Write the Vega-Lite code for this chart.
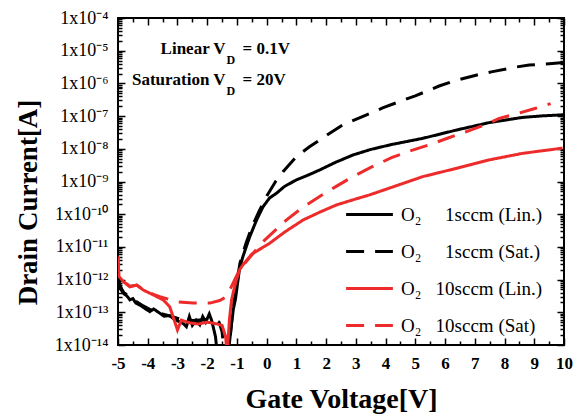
{
  "$schema": "https://vega.github.io/schema/vega-lite/v6.json",
  "width": 446,
  "height": 327,
  "autosize": {"type": "none"},
  "padding": {"left": 118, "top": 18, "right": 16, "bottom": 74},
  "background": "white",
  "config": {
    "font": "Liberation Serif",
    "view": {"stroke": "black", "strokeWidth": 2},
    "axis": {"grid": false, "domain": false, "tickColor": "black", "tickWidth": 1.5, "labelColor": "black", "titleColor": "black", "labelFont": "Liberation Serif", "titleFont": "Liberation Serif", "labelFlush": false, "labelOverlap": false},
    "legend": {"symbolType": "M-1.3,0H1.3", "symbolSize": 1296, "symbolStrokeWidth": 3, "labelFont": "Liberation Serif", "labelFontSize": 19, "labelColor": "black", "labelOffset": 12, "rowPadding": 7, "labelLimit": 300}
  },
  "datasets": {
    "curves": [
      {"series": "O₂\u00a0\u00a0\u00a0\u00a0\u00a01sccm (Lin.)", "Vg": -5, "Id": 1.26e-12},
      {"series": "O₂\u00a0\u00a0\u00a0\u00a0\u00a01sccm (Lin.)", "Vg": -4.95, "Id": 6.3e-13},
      {"series": "O₂\u00a0\u00a0\u00a0\u00a0\u00a01sccm (Lin.)", "Vg": -4.9, "Id": 5.01e-13},
      {"series": "O₂\u00a0\u00a0\u00a0\u00a0\u00a01sccm (Lin.)", "Vg": -4.82, "Id": 3.8e-13},
      {"series": "O₂\u00a0\u00a0\u00a0\u00a0\u00a01sccm (Lin.)", "Vg": -4.7, "Id": 3.16e-13},
      {"series": "O₂\u00a0\u00a0\u00a0\u00a0\u00a01sccm (Lin.)", "Vg": -4.6, "Id": 2.4e-13},
      {"series": "O₂\u00a0\u00a0\u00a0\u00a0\u00a01sccm (Lin.)", "Vg": -4.5, "Id": 2.63e-13},
      {"series": "O₂\u00a0\u00a0\u00a0\u00a0\u00a01sccm (Lin.)", "Vg": -4.4, "Id": 1.91e-13},
      {"series": "O₂\u00a0\u00a0\u00a0\u00a0\u00a01sccm (Lin.)", "Vg": -4.26, "Id": 1.66e-13},
      {"series": "O₂\u00a0\u00a0\u00a0\u00a0\u00a01sccm (Lin.)", "Vg": -4.1, "Id": 1.32e-13},
      {"series": "O₂\u00a0\u00a0\u00a0\u00a0\u00a01sccm (Lin.)", "Vg": -3.93, "Id": 1.05e-13},
      {"series": "O₂\u00a0\u00a0\u00a0\u00a0\u00a01sccm (Lin.)", "Vg": -3.8, "Id": 1.26e-13},
      {"series": "O₂\u00a0\u00a0\u00a0\u00a0\u00a01sccm (Lin.)", "Vg": -3.59, "Id": 9.33e-14},
      {"series": "O₂\u00a0\u00a0\u00a0\u00a0\u00a01sccm (Lin.)", "Vg": -3.45, "Id": 7.59e-14},
      {"series": "O₂\u00a0\u00a0\u00a0\u00a0\u00a01sccm (Lin.)", "Vg": -3.26, "Id": 7.94e-14},
      {"series": "O₂\u00a0\u00a0\u00a0\u00a0\u00a01sccm (Lin.)", "Vg": -3.1, "Id": 6.03e-14},
      {"series": "O₂\u00a0\u00a0\u00a0\u00a0\u00a01sccm (Lin.)", "Vg": -2.93, "Id": 5.13e-14},
      {"series": "O₂\u00a0\u00a0\u00a0\u00a0\u00a01sccm (Lin.)", "Vg": -2.8, "Id": 4.47e-14},
      {"series": "O₂\u00a0\u00a0\u00a0\u00a0\u00a01sccm (Lin.)", "Vg": -2.7, "Id": 3.63e-14},
      {"series": "O₂\u00a0\u00a0\u00a0\u00a0\u00a01sccm (Lin.)", "Vg": -2.6, "Id": 7.41e-14},
      {"series": "O₂\u00a0\u00a0\u00a0\u00a0\u00a01sccm (Lin.)", "Vg": -2.5, "Id": 3.98e-14},
      {"series": "O₂\u00a0\u00a0\u00a0\u00a0\u00a01sccm (Lin.)", "Vg": -2.37, "Id": 5.75e-14},
      {"series": "O₂\u00a0\u00a0\u00a0\u00a0\u00a01sccm (Lin.)", "Vg": -2.25, "Id": 4.17e-14},
      {"series": "O₂\u00a0\u00a0\u00a0\u00a0\u00a01sccm (Lin.)", "Vg": -2.15, "Id": 7.41e-14},
      {"series": "O₂\u00a0\u00a0\u00a0\u00a0\u00a01sccm (Lin.)", "Vg": -2.05, "Id": 5.01e-14},
      {"series": "O₂\u00a0\u00a0\u00a0\u00a0\u00a01sccm (Lin.)", "Vg": -1.93, "Id": 8.91e-14},
      {"series": "O₂\u00a0\u00a0\u00a0\u00a0\u00a01sccm (Lin.)", "Vg": -1.85, "Id": 5.62e-14},
      {"series": "O₂\u00a0\u00a0\u00a0\u00a0\u00a01sccm (Lin.)", "Vg": -1.8, "Id": 3.63e-14},
      {"series": "O₂\u00a0\u00a0\u00a0\u00a0\u00a01sccm (Lin.)", "Vg": -1.72, "Id": 1.78e-14},
      {"series": "O₂\u00a0\u00a0\u00a0\u00a0\u00a01sccm (Lin.)", "Vg": -1.66, "Id": 5e-15},
      {"series": "O₂\u00a0\u00a0\u00a0\u00a0\u00a01sccm (Lin.)", "Vg": -1.3, "Id": 5e-15},
      {"series": "O₂\u00a0\u00a0\u00a0\u00a0\u00a01sccm (Lin.)", "Vg": -1.26, "Id": 1e-14},
      {"series": "O₂\u00a0\u00a0\u00a0\u00a0\u00a01sccm (Lin.)", "Vg": -1.2, "Id": 3.16e-14},
      {"series": "O₂\u00a0\u00a0\u00a0\u00a0\u00a01sccm (Lin.)", "Vg": -1.12, "Id": 1.26e-13},
      {"series": "O₂\u00a0\u00a0\u00a0\u00a0\u00a01sccm (Lin.)", "Vg": -1.05, "Id": 2.51e-13},
      {"series": "O₂\u00a0\u00a0\u00a0\u00a0\u00a01sccm (Lin.)", "Vg": -0.91, "Id": 2.24e-12},
      {"series": "O₂\u00a0\u00a0\u00a0\u00a0\u00a01sccm (Lin.)", "Vg": -0.8, "Id": 5.01e-12},
      {"series": "O₂\u00a0\u00a0\u00a0\u00a0\u00a01sccm (Lin.)", "Vg": -0.67, "Id": 1.12e-11},
      {"series": "O₂\u00a0\u00a0\u00a0\u00a0\u00a01sccm (Lin.)", "Vg": -0.57, "Id": 2.04e-11},
      {"series": "O₂\u00a0\u00a0\u00a0\u00a0\u00a01sccm (Lin.)", "Vg": -0.34, "Id": 6.61e-11},
      {"series": "O₂\u00a0\u00a0\u00a0\u00a0\u00a01sccm (Lin.)", "Vg": -0.12, "Id": 1.7e-10},
      {"series": "O₂\u00a0\u00a0\u00a0\u00a0\u00a01sccm (Lin.)", "Vg": 0.1, "Id": 3.16e-10},
      {"series": "O₂\u00a0\u00a0\u00a0\u00a0\u00a01sccm (Lin.)", "Vg": 0.33, "Id": 4.37e-10},
      {"series": "O₂\u00a0\u00a0\u00a0\u00a0\u00a01sccm (Lin.)", "Vg": 0.6, "Id": 7.08e-10},
      {"series": "O₂\u00a0\u00a0\u00a0\u00a0\u00a01sccm (Lin.)", "Vg": 1.0, "Id": 1.12e-9},
      {"series": "O₂\u00a0\u00a0\u00a0\u00a0\u00a01sccm (Lin.)", "Vg": 1.4, "Id": 1.58e-9},
      {"series": "O₂\u00a0\u00a0\u00a0\u00a0\u00a01sccm (Lin.)", "Vg": 1.78, "Id": 2.24e-9},
      {"series": "O₂\u00a0\u00a0\u00a0\u00a0\u00a01sccm (Lin.)", "Vg": 2.3, "Id": 3.8e-9},
      {"series": "O₂\u00a0\u00a0\u00a0\u00a0\u00a01sccm (Lin.)", "Vg": 2.9, "Id": 6.46e-9},
      {"series": "O₂\u00a0\u00a0\u00a0\u00a0\u00a01sccm (Lin.)", "Vg": 3.5, "Id": 9.55e-9},
      {"series": "O₂\u00a0\u00a0\u00a0\u00a0\u00a01sccm (Lin.)", "Vg": 4.2, "Id": 1.35e-8},
      {"series": "O₂\u00a0\u00a0\u00a0\u00a0\u00a01sccm (Lin.)", "Vg": 5.25, "Id": 2.09e-8},
      {"series": "O₂\u00a0\u00a0\u00a0\u00a0\u00a01sccm (Lin.)", "Vg": 6.37, "Id": 3.72e-8},
      {"series": "O₂\u00a0\u00a0\u00a0\u00a0\u00a01sccm (Lin.)", "Vg": 7.48, "Id": 6.31e-8},
      {"series": "O₂\u00a0\u00a0\u00a0\u00a0\u00a01sccm (Lin.)", "Vg": 8.6, "Id": 9.12e-8},
      {"series": "O₂\u00a0\u00a0\u00a0\u00a0\u00a01sccm (Lin.)", "Vg": 9.3, "Id": 1.02e-7},
      {"series": "O₂\u00a0\u00a0\u00a0\u00a0\u00a01sccm (Lin.)", "Vg": 10, "Id": 1.1e-7},

      {"series": "O₂\u00a0\u00a0\u00a0\u00a0\u00a01sccm (Sat.)", "Vg": -5, "Id": 1e-12},
      {"series": "O₂\u00a0\u00a0\u00a0\u00a0\u00a01sccm (Sat.)", "Vg": -4.9, "Id": 5.62e-13},
      {"series": "O₂\u00a0\u00a0\u00a0\u00a0\u00a01sccm (Sat.)", "Vg": -4.8, "Id": 3.98e-13},
      {"series": "O₂\u00a0\u00a0\u00a0\u00a0\u00a01sccm (Sat.)", "Vg": -4.5, "Id": 2.51e-13},
      {"series": "O₂\u00a0\u00a0\u00a0\u00a0\u00a01sccm (Sat.)", "Vg": -4.2, "Id": 1.66e-13},
      {"series": "O₂\u00a0\u00a0\u00a0\u00a0\u00a01sccm (Sat.)", "Vg": -3.9, "Id": 1.2e-13},
      {"series": "O₂\u00a0\u00a0\u00a0\u00a0\u00a01sccm (Sat.)", "Vg": -3.5, "Id": 8.91e-14},
      {"series": "O₂\u00a0\u00a0\u00a0\u00a0\u00a01sccm (Sat.)", "Vg": -3.0, "Id": 6.61e-14},
      {"series": "O₂\u00a0\u00a0\u00a0\u00a0\u00a01sccm (Sat.)", "Vg": -2.5, "Id": 5.62e-14},
      {"series": "O₂\u00a0\u00a0\u00a0\u00a0\u00a01sccm (Sat.)", "Vg": -2.0, "Id": 6.03e-14},
      {"series": "O₂\u00a0\u00a0\u00a0\u00a0\u00a01sccm (Sat.)", "Vg": -1.75, "Id": 6.31e-14},
      {"series": "O₂\u00a0\u00a0\u00a0\u00a0\u00a01sccm (Sat.)", "Vg": -1.6, "Id": 5.01e-14},
      {"series": "O₂\u00a0\u00a0\u00a0\u00a0\u00a01sccm (Sat.)", "Vg": -1.5, "Id": 2.51e-14},
      {"series": "O₂\u00a0\u00a0\u00a0\u00a0\u00a01sccm (Sat.)", "Vg": -1.42, "Id": 5e-15},
      {"series": "O₂\u00a0\u00a0\u00a0\u00a0\u00a01sccm (Sat.)", "Vg": -1.3, "Id": 5e-15},
      {"series": "O₂\u00a0\u00a0\u00a0\u00a0\u00a01sccm (Sat.)", "Vg": -1.25, "Id": 1e-14},
      {"series": "O₂\u00a0\u00a0\u00a0\u00a0\u00a01sccm (Sat.)", "Vg": -1.15, "Id": 1e-13},
      {"series": "O₂\u00a0\u00a0\u00a0\u00a0\u00a01sccm (Sat.)", "Vg": -1.05, "Id": 3.98e-13},
      {"series": "O₂\u00a0\u00a0\u00a0\u00a0\u00a01sccm (Sat.)", "Vg": -0.9, "Id": 3.16e-12},
      {"series": "O₂\u00a0\u00a0\u00a0\u00a0\u00a01sccm (Sat.)", "Vg": -0.7, "Id": 1.26e-11},
      {"series": "O₂\u00a0\u00a0\u00a0\u00a0\u00a01sccm (Sat.)", "Vg": -0.5, "Id": 3.98e-11},
      {"series": "O₂\u00a0\u00a0\u00a0\u00a0\u00a01sccm (Sat.)", "Vg": -0.25, "Id": 1.26e-10},
      {"series": "O₂\u00a0\u00a0\u00a0\u00a0\u00a01sccm (Sat.)", "Vg": 0, "Id": 3.55e-10},
      {"series": "O₂\u00a0\u00a0\u00a0\u00a0\u00a01sccm (Sat.)", "Vg": 0.3, "Id": 1e-9},
      {"series": "O₂\u00a0\u00a0\u00a0\u00a0\u00a01sccm (Sat.)", "Vg": 0.55, "Id": 2e-9},
      {"series": "O₂\u00a0\u00a0\u00a0\u00a0\u00a01sccm (Sat.)", "Vg": 1.0, "Id": 5.75e-9},
      {"series": "O₂\u00a0\u00a0\u00a0\u00a0\u00a01sccm (Sat.)", "Vg": 1.44, "Id": 1.15e-8},
      {"series": "O₂\u00a0\u00a0\u00a0\u00a0\u00a01sccm (Sat.)", "Vg": 2.11, "Id": 2.95e-8},
      {"series": "O₂\u00a0\u00a0\u00a0\u00a0\u00a01sccm (Sat.)", "Vg": 2.56, "Id": 5.37e-8},
      {"series": "O₂\u00a0\u00a0\u00a0\u00a0\u00a01sccm (Sat.)", "Vg": 3.34, "Id": 1.07e-7},
      {"series": "O₂\u00a0\u00a0\u00a0\u00a0\u00a01sccm (Sat.)", "Vg": 3.9, "Id": 1.78e-7},
      {"series": "O₂\u00a0\u00a0\u00a0\u00a0\u00a01sccm (Sat.)", "Vg": 4.57, "Id": 3.02e-7},
      {"series": "O₂\u00a0\u00a0\u00a0\u00a0\u00a01sccm (Sat.)", "Vg": 5.0, "Id": 4.17e-7},
      {"series": "O₂\u00a0\u00a0\u00a0\u00a0\u00a01sccm (Sat.)", "Vg": 5.8, "Id": 8.32e-7},
      {"series": "O₂\u00a0\u00a0\u00a0\u00a0\u00a01sccm (Sat.)", "Vg": 6.25, "Id": 1.15e-6},
      {"series": "O₂\u00a0\u00a0\u00a0\u00a0\u00a01sccm (Sat.)", "Vg": 7.04, "Id": 1.78e-6},
      {"series": "O₂\u00a0\u00a0\u00a0\u00a0\u00a01sccm (Sat.)", "Vg": 7.6, "Id": 2.29e-6},
      {"series": "O₂\u00a0\u00a0\u00a0\u00a0\u00a01sccm (Sat.)", "Vg": 8.38, "Id": 3.16e-6},
      {"series": "O₂\u00a0\u00a0\u00a0\u00a0\u00a01sccm (Sat.)", "Vg": 8.83, "Id": 3.63e-6},
      {"series": "O₂\u00a0\u00a0\u00a0\u00a0\u00a01sccm (Sat.)", "Vg": 9.6, "Id": 4.07e-6},
      {"series": "O₂\u00a0\u00a0\u00a0\u00a0\u00a01sccm (Sat.)", "Vg": 10, "Id": 4.37e-6},

      {"series": "O₂\u00a0\u00a0\u00a010sccm (Lin.)", "Vg": -5, "Id": 5.01e-12},
      {"series": "O₂\u00a0\u00a0\u00a010sccm (Lin.)", "Vg": -4.97, "Id": 1.26e-12},
      {"series": "O₂\u00a0\u00a0\u00a010sccm (Lin.)", "Vg": -4.82, "Id": 8.71e-13},
      {"series": "O₂\u00a0\u00a0\u00a010sccm (Lin.)", "Vg": -4.6, "Id": 6.03e-13},
      {"series": "O₂\u00a0\u00a0\u00a010sccm (Lin.)", "Vg": -4.37, "Id": 6.76e-13},
      {"series": "O₂\u00a0\u00a0\u00a010sccm (Lin.)", "Vg": -4.15, "Id": 4.79e-13},
      {"series": "O₂\u00a0\u00a0\u00a010sccm (Lin.)", "Vg": -3.81, "Id": 3.39e-13},
      {"series": "O₂\u00a0\u00a0\u00a010sccm (Lin.)", "Vg": -3.48, "Id": 2.4e-13},
      {"series": "O₂\u00a0\u00a0\u00a010sccm (Lin.)", "Vg": -3.26, "Id": 1.48e-13},
      {"series": "O₂\u00a0\u00a0\u00a010sccm (Lin.)", "Vg": -3.15, "Id": 7.41e-14},
      {"series": "O₂\u00a0\u00a0\u00a010sccm (Lin.)", "Vg": -3.0, "Id": 2.88e-14},
      {"series": "O₂\u00a0\u00a0\u00a010sccm (Lin.)", "Vg": -2.87, "Id": 5.75e-14},
      {"series": "O₂\u00a0\u00a0\u00a010sccm (Lin.)", "Vg": -2.6, "Id": 4.79e-14},
      {"series": "O₂\u00a0\u00a0\u00a010sccm (Lin.)", "Vg": -2.3, "Id": 4.37e-14},
      {"series": "O₂\u00a0\u00a0\u00a010sccm (Lin.)", "Vg": -2.0, "Id": 5.01e-14},
      {"series": "O₂\u00a0\u00a0\u00a010sccm (Lin.)", "Vg": -1.7, "Id": 4.47e-14},
      {"series": "O₂\u00a0\u00a0\u00a010sccm (Lin.)", "Vg": -1.5, "Id": 3.98e-14},
      {"series": "O₂\u00a0\u00a0\u00a010sccm (Lin.)", "Vg": -1.38, "Id": 1.78e-14},
      {"series": "O₂\u00a0\u00a0\u00a010sccm (Lin.)", "Vg": -1.33, "Id": 5e-15},
      {"series": "O₂\u00a0\u00a0\u00a010sccm (Lin.)", "Vg": -1.3, "Id": 1.26e-14},
      {"series": "O₂\u00a0\u00a0\u00a010sccm (Lin.)", "Vg": -1.25, "Id": 6.31e-14},
      {"series": "O₂\u00a0\u00a0\u00a010sccm (Lin.)", "Vg": -1.18, "Id": 2.4e-13},
      {"series": "O₂\u00a0\u00a0\u00a010sccm (Lin.)", "Vg": -1.1, "Id": 5.01e-13},
      {"series": "O₂\u00a0\u00a0\u00a010sccm (Lin.)", "Vg": -1.02, "Id": 9.77e-13},
      {"series": "O₂\u00a0\u00a0\u00a010sccm (Lin.)", "Vg": -0.91, "Id": 2e-12},
      {"series": "O₂\u00a0\u00a0\u00a010sccm (Lin.)", "Vg": -0.8, "Id": 2.82e-12},
      {"series": "O₂\u00a0\u00a0\u00a010sccm (Lin.)", "Vg": -0.5, "Id": 6.03e-12},
      {"series": "O₂\u00a0\u00a0\u00a010sccm (Lin.)", "Vg": 0.1, "Id": 1.29e-11},
      {"series": "O₂\u00a0\u00a0\u00a010sccm (Lin.)", "Vg": 0.6, "Id": 2.82e-11},
      {"series": "O₂\u00a0\u00a0\u00a010sccm (Lin.)", "Vg": 1.22, "Id": 6.61e-11},
      {"series": "O₂\u00a0\u00a0\u00a010sccm (Lin.)", "Vg": 1.8, "Id": 1.17e-10},
      {"series": "O₂\u00a0\u00a0\u00a010sccm (Lin.)", "Vg": 2.34, "Id": 1.91e-10},
      {"series": "O₂\u00a0\u00a0\u00a010sccm (Lin.)", "Vg": 2.9, "Id": 2.75e-10},
      {"series": "O₂\u00a0\u00a0\u00a010sccm (Lin.)", "Vg": 3.46, "Id": 3.89e-10},
      {"series": "O₂\u00a0\u00a0\u00a010sccm (Lin.)", "Vg": 4.2, "Id": 6.61e-10},
      {"series": "O₂\u00a0\u00a0\u00a010sccm (Lin.)", "Vg": 5.25, "Id": 1.41e-9},
      {"series": "O₂\u00a0\u00a0\u00a010sccm (Lin.)", "Vg": 6.37, "Id": 2.51e-9},
      {"series": "O₂\u00a0\u00a0\u00a010sccm (Lin.)", "Vg": 7.48, "Id": 4.57e-9},
      {"series": "O₂\u00a0\u00a0\u00a010sccm (Lin.)", "Vg": 8.6, "Id": 7.24e-9},
      {"series": "O₂\u00a0\u00a0\u00a010sccm (Lin.)", "Vg": 9.95, "Id": 1.05e-8},

      {"series": "O₂\u00a0\u00a0\u00a010sccm (Sat)", "Vg": -5, "Id": 5.01e-12},
      {"series": "O₂\u00a0\u00a0\u00a010sccm (Sat)", "Vg": -4.97, "Id": 1.26e-12},
      {"series": "O₂\u00a0\u00a0\u00a010sccm (Sat)", "Vg": -4.82, "Id": 8.71e-13},
      {"series": "O₂\u00a0\u00a0\u00a010sccm (Sat)", "Vg": -4.6, "Id": 6.31e-13},
      {"series": "O₂\u00a0\u00a0\u00a010sccm (Sat)", "Vg": -4.37, "Id": 6.76e-13},
      {"series": "O₂\u00a0\u00a0\u00a010sccm (Sat)", "Vg": -4.15, "Id": 5.01e-13},
      {"series": "O₂\u00a0\u00a0\u00a010sccm (Sat)", "Vg": -3.81, "Id": 3.55e-13},
      {"series": "O₂\u00a0\u00a0\u00a010sccm (Sat)", "Vg": -3.59, "Id": 3.02e-13},
      {"series": "O₂\u00a0\u00a0\u00a010sccm (Sat)", "Vg": -3.03, "Id": 2.09e-13},
      {"series": "O₂\u00a0\u00a0\u00a010sccm (Sat)", "Vg": -2.47, "Id": 1.91e-13},
      {"series": "O₂\u00a0\u00a0\u00a010sccm (Sat)", "Vg": -1.91, "Id": 1.91e-13},
      {"series": "O₂\u00a0\u00a0\u00a010sccm (Sat)", "Vg": -1.58, "Id": 2.29e-13},
      {"series": "O₂\u00a0\u00a0\u00a010sccm (Sat)", "Vg": -1.35, "Id": 3.02e-13},
      {"series": "O₂\u00a0\u00a0\u00a010sccm (Sat)", "Vg": -1.13, "Id": 7.76e-13},
      {"series": "O₂\u00a0\u00a0\u00a010sccm (Sat)", "Vg": -0.91, "Id": 2e-12},
      {"series": "O₂\u00a0\u00a0\u00a010sccm (Sat)", "Vg": -0.46, "Id": 6.31e-12},
      {"series": "O₂\u00a0\u00a0\u00a010sccm (Sat)", "Vg": -0.12, "Id": 1.45e-11},
      {"series": "O₂\u00a0\u00a0\u00a010sccm (Sat)", "Vg": 0.66, "Id": 6.61e-11},
      {"series": "O₂\u00a0\u00a0\u00a010sccm (Sat)", "Vg": 1.2, "Id": 1.58e-10},
      {"series": "O₂\u00a0\u00a0\u00a010sccm (Sat)", "Vg": 1.78, "Id": 3.47e-10},
      {"series": "O₂\u00a0\u00a0\u00a010sccm (Sat)", "Vg": 2.34, "Id": 7.08e-10},
      {"series": "O₂\u00a0\u00a0\u00a010sccm (Sat)", "Vg": 2.9, "Id": 1.41e-9},
      {"series": "O₂\u00a0\u00a0\u00a010sccm (Sat)", "Vg": 3.5, "Id": 2.69e-9},
      {"series": "O₂\u00a0\u00a0\u00a010sccm (Sat)", "Vg": 4.2, "Id": 5.37e-9},
      {"series": "O₂\u00a0\u00a0\u00a010sccm (Sat)", "Vg": 4.8, "Id": 8.51e-9},
      {"series": "O₂\u00a0\u00a0\u00a010sccm (Sat)", "Vg": 5.47, "Id": 1.32e-8},
      {"series": "O₂\u00a0\u00a0\u00a010sccm (Sat)", "Vg": 6.1, "Id": 2.14e-8},
      {"series": "O₂\u00a0\u00a0\u00a010sccm (Sat)", "Vg": 6.7, "Id": 3.31e-8},
      {"series": "O₂\u00a0\u00a0\u00a010sccm (Sat)", "Vg": 7.3, "Id": 5.25e-8},
      {"series": "O₂\u00a0\u00a0\u00a010sccm (Sat)", "Vg": 7.82, "Id": 8.51e-8},
      {"series": "O₂\u00a0\u00a0\u00a010sccm (Sat)", "Vg": 8.4, "Id": 1.17e-7},
      {"series": "O₂\u00a0\u00a0\u00a010sccm (Sat)", "Vg": 9.05, "Id": 1.74e-7},
      {"series": "O₂\u00a0\u00a0\u00a010sccm (Sat)", "Vg": 9.55, "Id": 2.4e-7}
    ],
    "label1": [
      {"Vg": -1.38, "Id": 1.15e-5, "t": "Linear V"},
      {"Vg": -1.38, "Id": 1.3e-6, "t": "Saturation V"}
    ],
    "labelD": [
      {"Vg": -1.35, "Id": 5.2e-6, "t": "D"},
      {"Vg": -1.35, "Id": 5.9e-7, "t": "D"}
    ],
    "label2": [
      {"Vg": -0.81, "Id": 1.15e-5, "t": "= 0.1V"},
      {"Vg": -0.81, "Id": 1.3e-6, "t": "= 20V"}
    ]
  },
  "resolve": {"axis": {"x": "independent", "y": "independent"}},
  "layer": [
    {
      "data": {"name": "curves"},
      "mark": {"type": "line", "strokeWidth": 3, "clip": true},
      "encoding": {
        "x": {"field": "Vg", "type": "quantitative",
          "scale": {"domain": [-5, 10], "nice": false, "zero": false},
          "axis": {"orient": "bottom", "values": [-5,-4,-3,-2,-1,0,1,2,3,4,5,6,7,8,9,10], "labelExpr": "'' + datum.value", "tickSize": -7, "labelPadding": 17, "labelFontSize": 17, "labelFontWeight": "bold", "title": "Gate Voltage[V]", "titleFontSize": 28, "titleFontWeight": "bold", "titlePadding": 14}},
        "y": {"field": "Id", "type": "quantitative",
          "scale": {"type": "log", "domain": [1e-14, 1e-4], "nice": false},
          "axis": {"orient": "left", "values": [1e-14,1e-13,1e-12,1e-11,1e-10,1e-9,1e-8,1e-7,1e-6,1e-5,1e-4],
            "labelExpr": "'1x10' + ['⁻¹⁴','⁻¹³','⁻¹²','⁻¹¹','⁻¹⁰','⁻⁹','⁻⁸','⁻⁷','⁻⁶','⁻⁵','⁻⁴'][round(log(datum.value)/LN10)+14]",
            "tickSize": -7, "labelPadding": 17, "labelFontSize": 18, "title": "Drain Current[A]", "titleFontSize": 27, "titleFontWeight": "bold", "titlePadding": 12, "titleY": 184}},
        "color": {"field": "series", "type": "nominal",
          "scale": {"domain": ["O₂\u00a0\u00a0\u00a0\u00a0\u00a01sccm (Lin.)", "O₂\u00a0\u00a0\u00a0\u00a0\u00a01sccm (Sat.)", "O₂\u00a0\u00a0\u00a010sccm (Lin.)", "O₂\u00a0\u00a0\u00a010sccm (Sat)"], "range": ["#000000", "#000000", "#ee2b2b", "#ee2b2b"]},
          "legend": {"title": null, "orient": "none", "legendX": 232, "legendY": 177}},
        "strokeDash": {"field": "series", "type": "nominal",
          "scale": {"domain": ["O₂\u00a0\u00a0\u00a0\u00a0\u00a01sccm (Lin.)", "O₂\u00a0\u00a0\u00a0\u00a0\u00a01sccm (Sat.)", "O₂\u00a0\u00a0\u00a010sccm (Lin.)", "O₂\u00a0\u00a0\u00a010sccm (Sat)"], "range": [[1, 0], [18, 11], [1, 0], [18, 11]]},
          "legend": {"title": null, "orient": "none", "legendX": 232, "legendY": 177}}
      }
    },
    {
      "data": {"name": "label1"},
      "mark": {"type": "text", "align": "right", "baseline": "middle", "fontSize": 17, "fontWeight": "bold", "font": "Liberation Serif", "color": "black"},
      "encoding": {
        "x": {"field": "Vg", "type": "quantitative", "scale": {"domain": [-5, 10], "nice": false, "zero": false},
          "axis": {"orient": "bottom", "values": [-4.5,-3.5,-2.5,-1.5,-0.5,0.5,1.5,2.5,3.5,4.5,5.5,6.5,7.5,8.5,9.5], "labels": false, "tickSize": -4, "title": null}},
        "y": {"field": "Id", "type": "quantitative", "scale": {"type": "log", "domain": [1e-14, 1e-4], "nice": false},
          "axis": {"orient": "left", "values": [2e-14,3e-14,4e-14,5e-14,6e-14,7e-14,8e-14,9e-14,2e-13,3e-13,4e-13,5e-13,6e-13,7e-13,8e-13,9e-13,2e-12,3e-12,4e-12,5e-12,6e-12,7e-12,8e-12,9e-12,2e-11,3e-11,4e-11,5e-11,6e-11,7e-11,8e-11,9e-11,2e-10,3e-10,4e-10,5e-10,6e-10,7e-10,8e-10,9e-10,2e-9,3e-9,4e-9,5e-9,6e-9,7e-9,8e-9,9e-9,2e-8,3e-8,4e-8,5e-8,6e-8,7e-8,8e-8,9e-8,2e-7,3e-7,4e-7,5e-7,6e-7,7e-7,8e-7,9e-7,2e-6,3e-6,4e-6,5e-6,6e-6,7e-6,8e-6,9e-6,2e-5,3e-5,4e-5,5e-5,6e-5,7e-5,8e-5,9e-5], "labels": false, "tickSize": -4, "title": null}},
        "text": {"field": "t", "type": "nominal"}
      }
    },
    {
      "data": {"name": "labelD"},
      "mark": {"type": "text", "align": "left", "baseline": "middle", "fontSize": 12, "fontWeight": "bold", "font": "Liberation Serif", "color": "black"},
      "encoding": {
        "x": {"field": "Vg", "type": "quantitative", "scale": {"domain": [-5, 10], "nice": false, "zero": false},
          "axis": {"orient": "top", "values": [-4.5,-3.5,-2.5,-1.5,-0.5,0.5,1.5,2.5,3.5,4.5,5.5,6.5,7.5,8.5,9.5], "labels": false, "tickSize": -4, "title": null}},
        "y": {"field": "Id", "type": "quantitative", "scale": {"type": "log", "domain": [1e-14, 1e-4], "nice": false},
          "axis": {"orient": "right", "values": [2e-14,3e-14,4e-14,5e-14,6e-14,7e-14,8e-14,9e-14,2e-13,3e-13,4e-13,5e-13,6e-13,7e-13,8e-13,9e-13,2e-12,3e-12,4e-12,5e-12,6e-12,7e-12,8e-12,9e-12,2e-11,3e-11,4e-11,5e-11,6e-11,7e-11,8e-11,9e-11,2e-10,3e-10,4e-10,5e-10,6e-10,7e-10,8e-10,9e-10,2e-9,3e-9,4e-9,5e-9,6e-9,7e-9,8e-9,9e-9,2e-8,3e-8,4e-8,5e-8,6e-8,7e-8,8e-8,9e-8,2e-7,3e-7,4e-7,5e-7,6e-7,7e-7,8e-7,9e-7,2e-6,3e-6,4e-6,5e-6,6e-6,7e-6,8e-6,9e-6,2e-5,3e-5,4e-5,5e-5,6e-5,7e-5,8e-5,9e-5], "labels": false, "tickSize": -4, "title": null}},
        "text": {"field": "t", "type": "nominal"}
      }
    },
    {
      "data": {"name": "label2"},
      "mark": {"type": "text", "align": "left", "baseline": "middle", "fontSize": 17, "fontWeight": "bold", "font": "Liberation Serif", "color": "black"},
      "encoding": {
        "x": {"field": "Vg", "type": "quantitative", "scale": {"domain": [-5, 10], "nice": false, "zero": false},
          "axis": {"orient": "top", "values": [-5,-4,-3,-2,-1,0,1,2,3,4,5,6,7,8,9,10], "labels": false, "tickSize": -7, "title": null}},
        "y": {"field": "Id", "type": "quantitative", "scale": {"type": "log", "domain": [1e-14, 1e-4], "nice": false},
          "axis": {"orient": "right", "values": [1e-14,1e-13,1e-12,1e-11,1e-10,1e-9,1e-8,1e-7,1e-6,1e-5,1e-4], "labels": false, "tickSize": -7, "title": null}},
        "text": {"field": "t", "type": "nominal"}
      }
    }
  ]
}
